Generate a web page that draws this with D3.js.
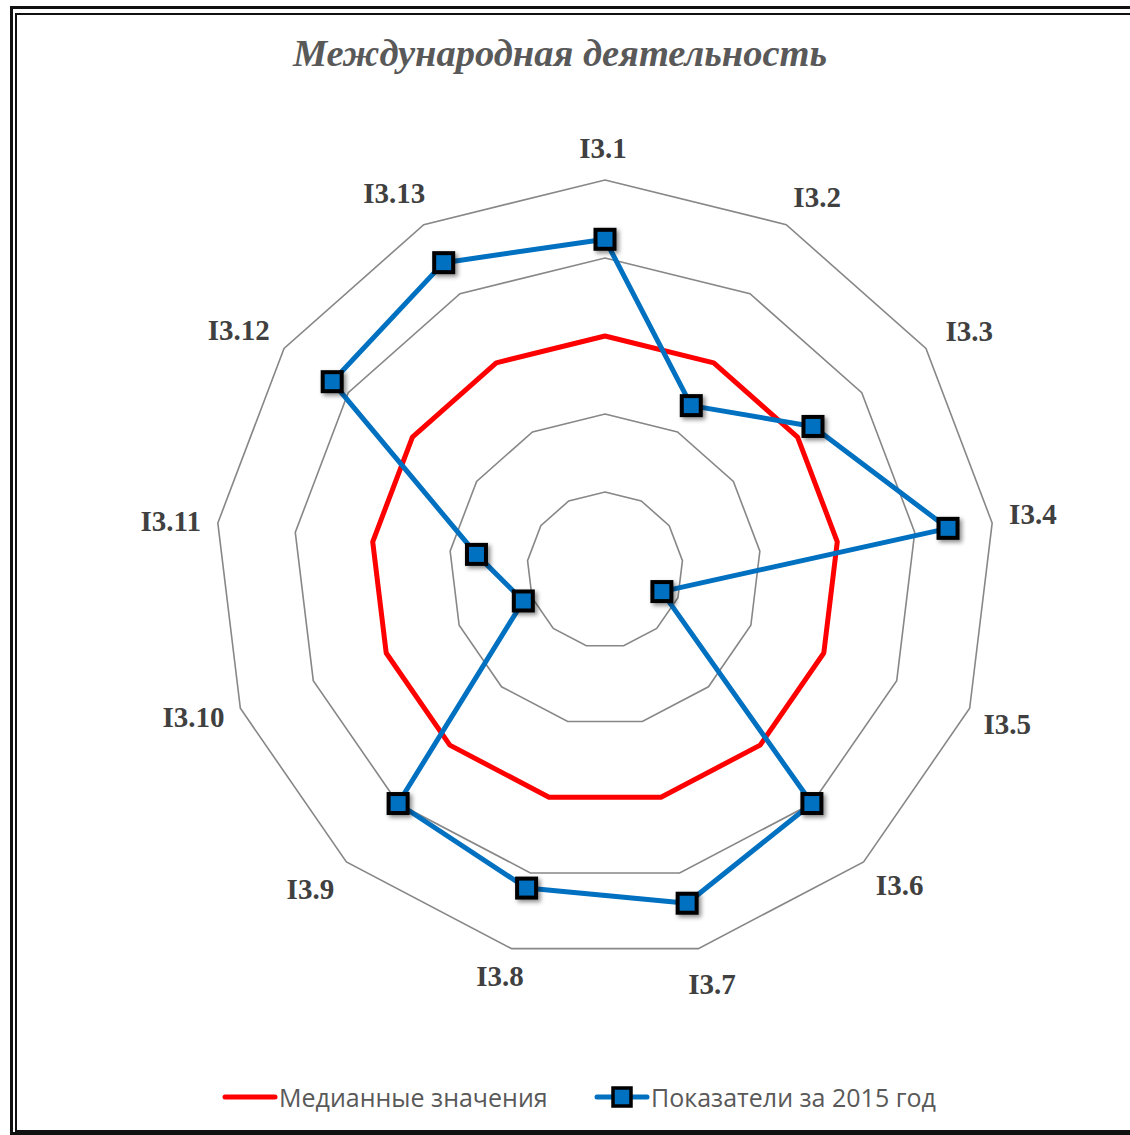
<!DOCTYPE html>
<html>
<head>
<meta charset="utf-8">
<script src="https://d3js.org/d3.v7.min.js"></script>
<style>
  body { margin: 0; background: #fff; }
  svg { display: block; }
</style>
</head>
<body>
<svg id="chart" width="1130" height="1135"></svg>
<script>
const categories = ['I3.1', 'I3.2', 'I3.3', 'I3.4', 'I3.5', 'I3.6', 'I3.7',
  'I3.8', 'I3.9', 'I3.10', 'I3.11', 'I3.12', 'I3.13'];
const medianValues = [3, 3, 3, 3, 3, 3, 3, 3, 3, 3, 3, 3, 3];
const values2015 = [4.24, 2.38, 3.24, 4.43, 0.78, 4.0, 4.4, 4.2, 4.0, 1.12, 1.66, 4.25, 4.45];
const gridLevels = [1, 2, 3, 4, 5];
const seriesNames = ['Медианные значения', 'Показатели за 2015 год'];

const svg = d3.select('#chart');
const cx = 605, cy = 570;

// frame (double line, cut at the right and bottom)
svg.append('rect')
  .attr('x', 11.5).attr('y', 7.5)
  .attr('width', 1200).attr('height', 1126)
  .attr('fill', 'none').attr('stroke', '#111').attr('stroke-width', 3);
svg.append('rect')
  .attr('x', 16).attr('y', 14)
  .attr('width', 1200).attr('height', 1117)
  .attr('fill', 'none').attr('stroke', '#111').attr('stroke-width', 2);

const defs = svg.append('defs');
defs.append('filter')
  .attr('id', 'shadow')
  .attr('x', '-50%').attr('y', '-50%')
  .attr('width', '200%').attr('height', '200%')
  .append('feDropShadow')
  .attr('dx', 2.5).attr('dy', 2.5)
  .attr('stdDeviation', 2)
  .attr('flood-color', '#000')
  .attr('flood-opacity', 0.45);

svg.append('text')
  .attr('x', 560).attr('y', 66)
  .attr('text-anchor', 'middle')
  .attr('font-family', '"Liberation Serif", "Times New Roman", serif')
  .attr('font-style', 'italic')
  .attr('font-weight', 'bold')
  .attr('font-size', 38.5)
  .attr('fill', '#595959')
  .text('Международная деятельность');

const r = d3.scaleLinear().domain([0, 5]).range([0, 390]);
const angle = d3.scaleLinear().domain([0, categories.length]).range([0, 2 * Math.PI]);

const g = svg.append('g').attr('transform', `translate(${cx},${cy})`);

const radial = d3.lineRadial()
  .angle((d, i) => angle(i))
  .radius(d => r(d))
  .curve(d3.curveLinearClosed);

// grid rings
g.append('g')
  .selectAll('path')
  .data(gridLevels)
  .join('path')
  .attr('d', lv => radial(categories.map(() => lv)))
  .attr('fill', 'none')
  .attr('stroke', '#878787')
  .attr('stroke-width', 1.6);

// category labels: box pushed out from the ring so its nearest edge sits at labelGap,
// plus a small per-label nudge like Excel does
const labelGap = 409;
const labelNudge = [[0, -1], [14, 8], [8, 8], [-1, -4], [-3, 0], [9, -10], [7, 0],
  [-1, -8], [-5, -6], [4, -10], [5, 4], [-1, 11], [-7, 7]];
g.append('g')
  .selectAll('text')
  .data(categories)
  .join('text')
  .attr('text-anchor', 'middle')
  .attr('dominant-baseline', 'central')
  .attr('font-family', '"Liberation Serif", "Times New Roman", serif')
  .attr('font-weight', 'bold')
  .attr('font-size', 29)
  .attr('fill', '#404040')
  .text(d => d)
  .each(function(d, i) {
    const w = this.getComputedTextLength();
    const s = Math.sin(angle(i)), c = Math.cos(angle(i));
    const dist = labelGap + Math.abs(s) * w / 2 + Math.abs(c) * 12;
    d3.select(this)
      .attr('x', dist * s - 2 + labelNudge[i][0])
      .attr('y', -dist * c + labelNudge[i][1]);
  });

// median series
g.append('path')
  .attr('d', radial(medianValues))
  .attr('fill', 'none')
  .attr('stroke', '#ff0000')
  .attr('stroke-width', 5)
  .attr('stroke-linejoin', 'round');

// 2015 series
g.append('path')
  .attr('d', radial(values2015))
  .attr('fill', 'none')
  .attr('stroke', '#0070c0')
  .attr('stroke-width', 5)
  .attr('stroke-linejoin', 'round');

const ms = 19;
g.append('g')
  .selectAll('rect')
  .data(values2015)
  .join('rect')
  .attr('x', (d, i) => r(d) * Math.sin(angle(i)) - ms / 2)
  .attr('y', (d, i) => -r(d) * Math.cos(angle(i)) - ms / 2)
  .attr('width', ms).attr('height', ms)
  .attr('fill', '#0070c0')
  .attr('stroke', '#000')
  .attr('stroke-width', 4)
  .attr('filter', 'url(#shadow)');

// legend
const legend = svg.append('g').attr('transform', 'translate(0,1097)');
legend.append('line')
  .attr('x1', 225).attr('x2', 275)
  .attr('stroke', '#ff0000').attr('stroke-width', 5).attr('stroke-linecap', 'round');
legend.append('line')
  .attr('x1', 597).attr('x2', 647)
  .attr('stroke', '#0070c0').attr('stroke-width', 5).attr('stroke-linecap', 'round');
legend.append('rect')
  .attr('x', 613).attr('y', -9).attr('width', 18).attr('height', 18)
  .attr('fill', '#0070c0').attr('stroke', '#000').attr('stroke-width', 3.5);
legend.selectAll('text')
  .data(seriesNames)
  .join('text')
  .attr('x', (d, i) => i === 0 ? 279 : 651)
  .attr('y', 0)
  .attr('dominant-baseline', 'central')
  .attr('font-family', '"Open Sans", sans-serif')
  .attr('font-size', 25)
  .attr('fill', '#595959')
  .text(d => d);
</script>
</body>
</html>
